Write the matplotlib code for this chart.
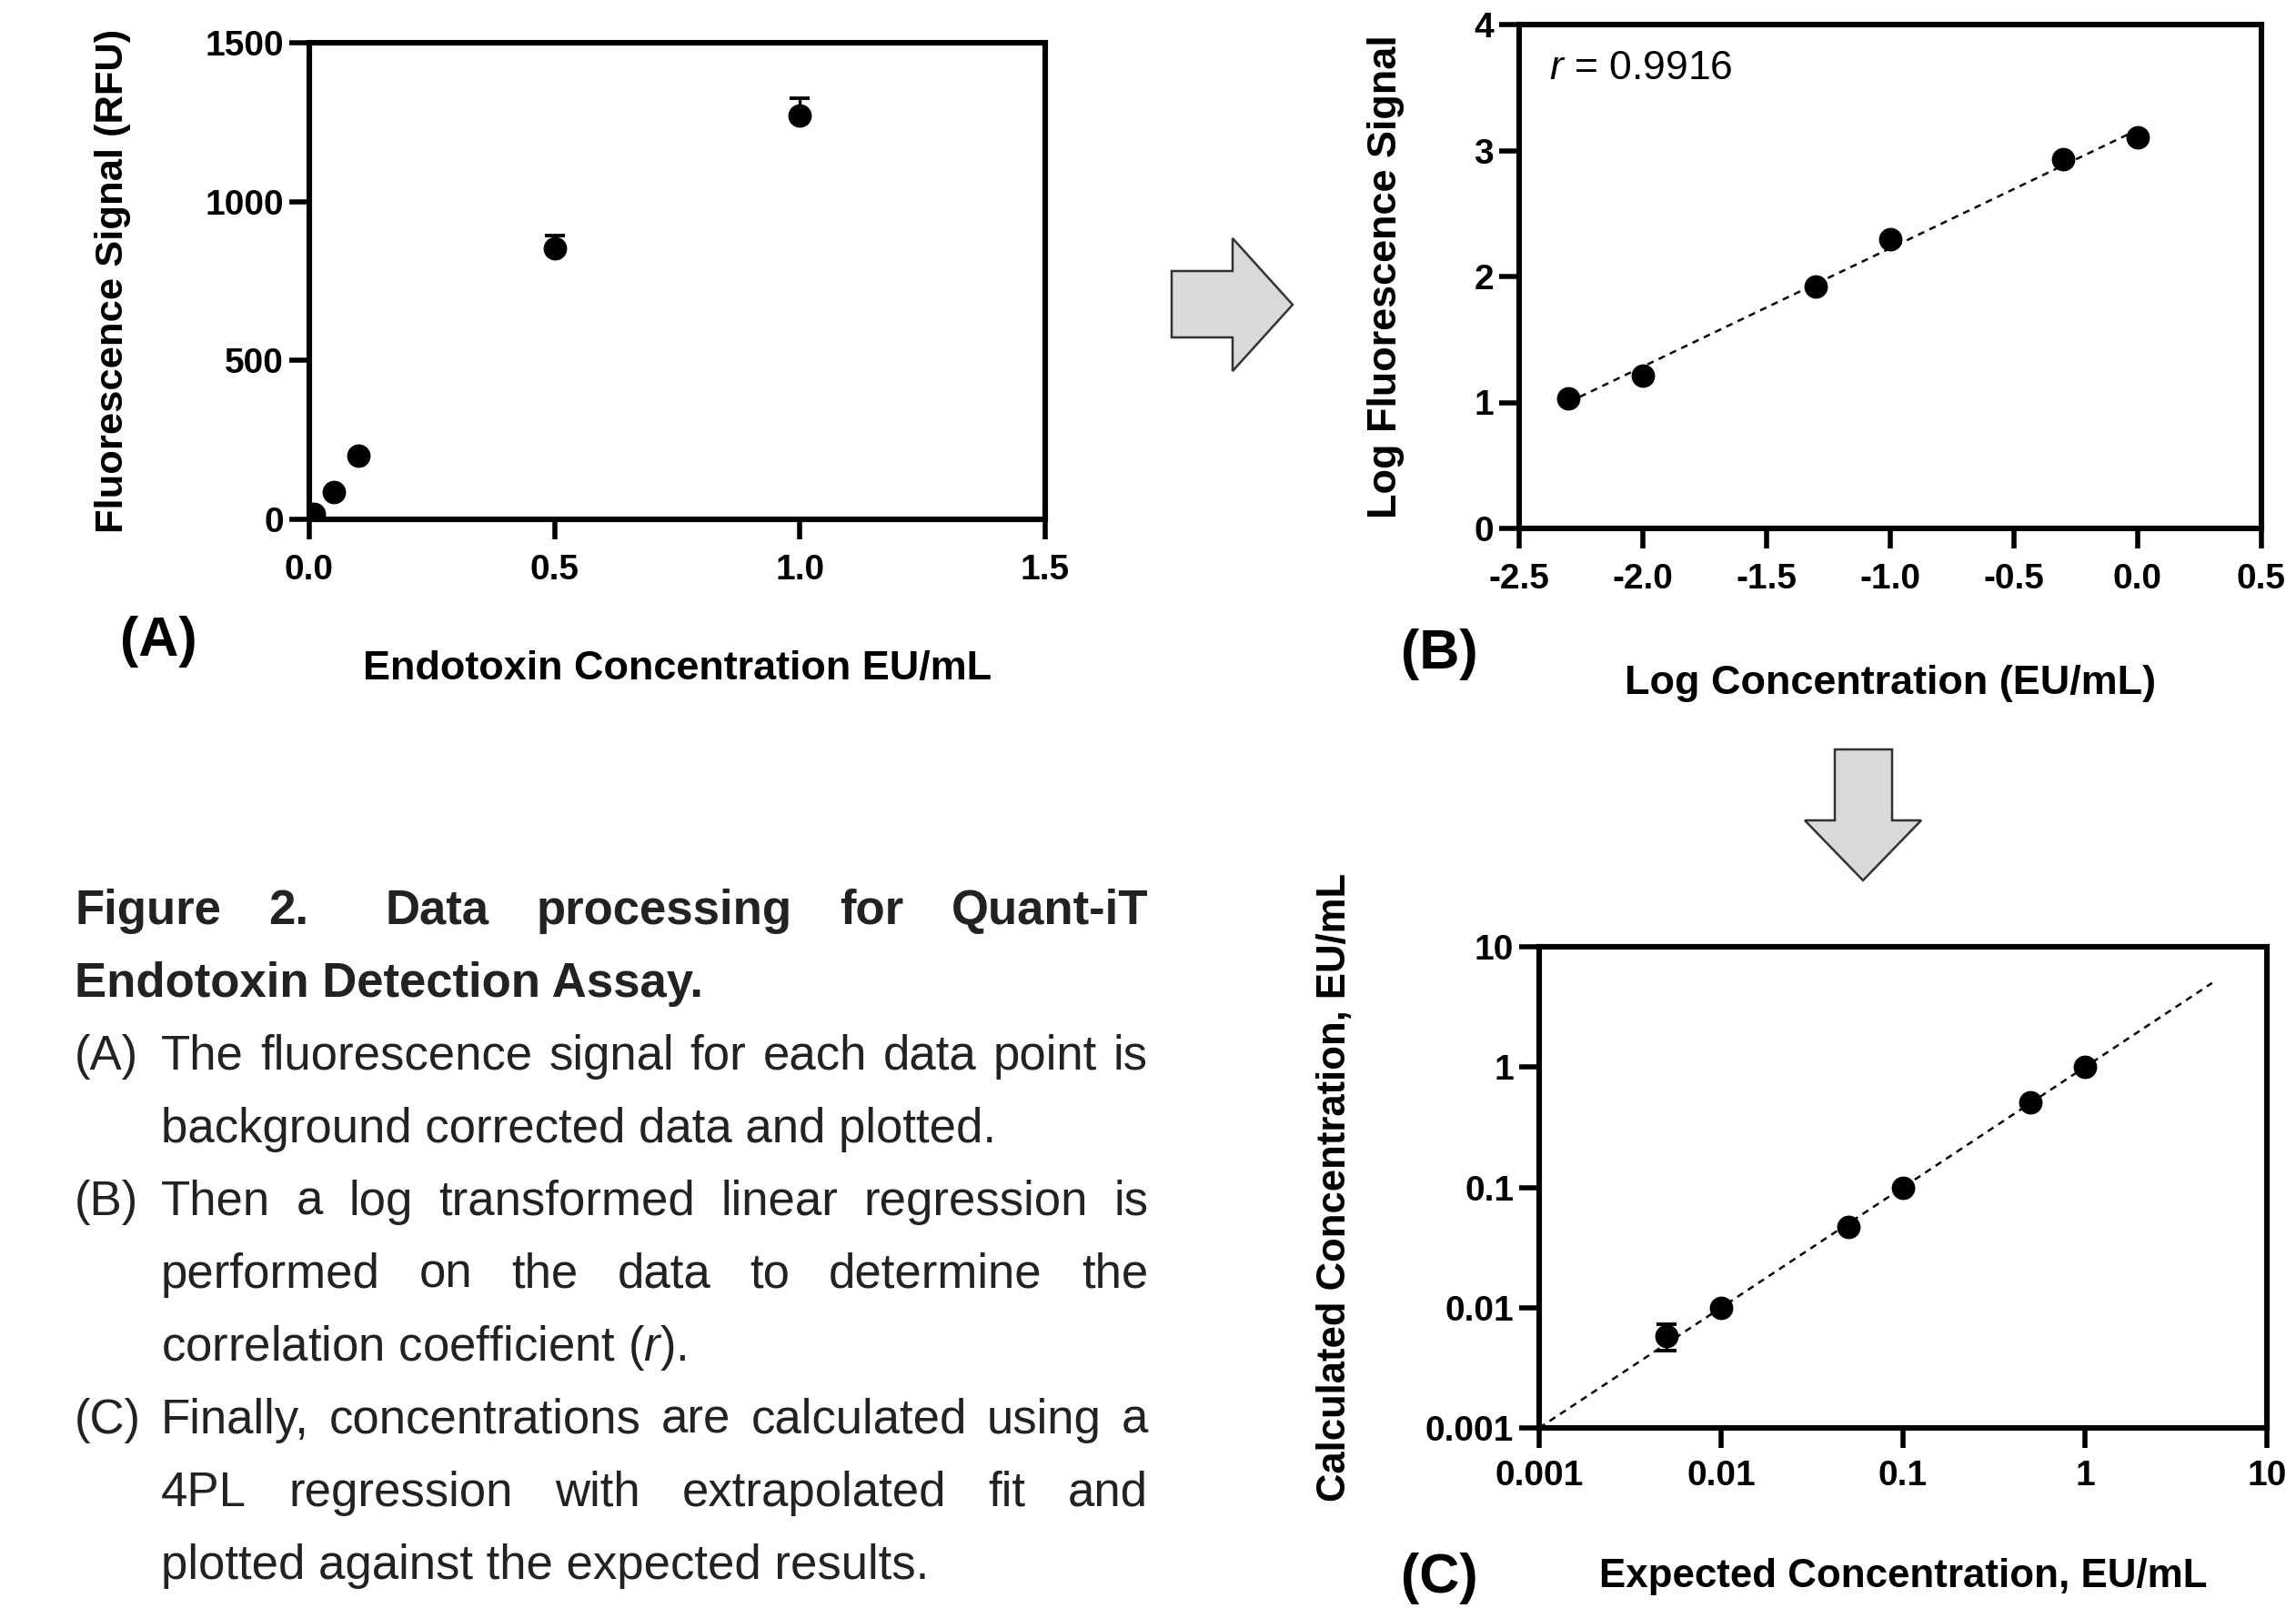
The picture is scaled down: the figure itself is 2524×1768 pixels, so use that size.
import matplotlib

matplotlib.use('Agg')
import matplotlib.pyplot as plt
from matplotlib.patches import Polygon
import numpy as np

plt.rcParams['font.family'] = 'Liberation Sans'
plt.rcParams['mathtext.fontset'] = 'custom'
plt.rcParams['mathtext.rm'] = 'Liberation Sans'
plt.rcParams['mathtext.it'] = 'Liberation Sans:italic'
plt.rcParams['mathtext.bf'] = 'Liberation Sans:bold'

W, H, DPI = 2524, 1768, 200

# (A) raw signal
conc = [0.005, 0.01, 0.05, 0.1, 0.5, 1.0]
rfu = [11, 16, 85, 200, 853, 1271]
rfu_err = [1, 1, 3, 6, 41, 54]

# (B) log-log
log_conc = [-2.301, -2.0, -1.301, -1.0, -0.301, 0.0]
log_rfu = [1.035, 1.216, 1.922, 2.296, 2.928, 3.102]
r_value = 0.9916

# (C) back-calculated
expected = [0.005, 0.01, 0.05, 0.1, 0.5, 1.0]
calculated = [0.0058, 0.0100, 0.047, 0.100, 0.51, 1.0]
calc_err_lo = [0.00143, 0, 0, 0, 0, 0]
calc_err_hi = [0.00154, 0, 0, 0, 0, 0]
ident = [0.001, 5]

a_xticks = [0, 0.5, 1.0, 1.5]
a_xlabels = ['0.0', '0.5', '1.0', '1.5']
a_yticks = [0, 500, 1000, 1500]
b_xticks = [-2.5, -2.0, -1.5, -1.0, -0.5, 0.0, 0.5]
b_xlabels = ['-2.5', '-2.0', '-1.5', '-1.0', '-0.5', '0.0', '0.5']
b_yticks = [0, 1, 2, 3, 4]
c_ticks = [0.001, 0.01, 0.1, 1, 10]
c_labels = ['0.001', '0.01', '0.1', '1', '10']

fig = plt.figure(figsize=(W / DPI, H / DPI), dpi=DPI)


def px_axes(left, top, right, bottom):
    return fig.add_axes([left / W, 1 - bottom / H, (right - left) / W, (bottom - top) / H])


def style(ax, xpad=6):
    for s in ax.spines.values():
        s.set_linewidth(2.2)
    ax.tick_params(direction='out', length=8, width=2.0, labelsize=14, top=False, right=False)
    ax.tick_params(axis='x', pad=xpad)
    ax.tick_params(axis='y', pad=2)
    for lab in ax.get_xticklabels() + ax.get_yticklabels():
        lab.set_fontweight('bold')


MS = 8.3

# panel A
axA = px_axes(340, 47, 1149, 571)
axA.errorbar(conc, rfu, yerr=[np.zeros(len(rfu_err)), rfu_err], fmt='o', color='black',
             ms=MS, elinewidth=1.2, capsize=4, capthick=1.4)
axA.set_xlim(0, 1.5)
axA.set_ylim(0, 1500)
axA.set_xticks(a_xticks, a_xlabels)
axA.set_yticks(a_yticks)
style(axA, xpad=5.8)
axA.set_xlabel('Endotoxin Concentration EU/mL', va='center', fontsize=16.2, fontweight='bold')
axA.xaxis.set_label_coords(0.5, (571 - 736) / 524)
axA.set_ylabel('Fluorescence Signal (RFU)', va='center', fontsize=15.65, fontweight='bold')
axA.yaxis.set_label_coords((124 - 340) / 809, 0.5)

# panel B
axB = px_axes(1670, 27, 2486, 581)
k, b = np.polyfit(log_conc, log_rfu, 1)
fit_x = np.array([min(log_conc), max(log_conc)])
axB.plot(fit_x, k * fit_x + b, color='black', lw=0.9, ls=(0, (3, 2.5)))
axB.plot(log_conc, log_rfu, 'o', color='black', ms=MS)
axB.set_xlim(-2.5, 0.5)
axB.set_ylim(0, 4)
axB.set_xticks(b_xticks, b_xlabels)
axB.set_yticks(b_yticks)
style(axB, xpad=5.7)
axB.text(0.04, 0.892, r'$\mathit{r}$ = %.4f' % r_value, transform=axB.transAxes,
         fontsize=16, va='baseline')
axB.set_xlabel('Log Concentration (EU/mL)', va='center', fontsize=16.2, fontweight='bold')
axB.xaxis.set_label_coords(0.5, (581 - 752) / 554)
axB.set_ylabel('Log Fluorescence Signal', va='center', fontsize=16.2, fontweight='bold')
axB.yaxis.set_label_coords((1524 - 1670) / 816, 0.5)

# panel C
axC = px_axes(1692, 1041, 2492, 1570)
axC.set_xscale('log')
axC.set_yscale('log')
axC.plot(ident, ident, color='black', lw=0.9, ls=(0, (3, 2.5)))
axC.errorbar(expected, calculated, yerr=[calc_err_lo, calc_err_hi], fmt='o', color='black',
             ms=MS, elinewidth=1.2, capsize=4, capthick=1.4)
axC.set_xlim(0.001, 10)
axC.set_ylim(0.001, 10)
axC.set_xticks(c_ticks, c_labels)
axC.set_yticks(c_ticks, c_labels)
axC.minorticks_off()
style(axC, xpad=4.5)
axC.set_xlabel('Expected Concentration, EU/mL', va='center', fontsize=15.8, fontweight='bold')
axC.xaxis.set_label_coords(0.5, (1570 - 1734) / 529)
axC.set_ylabel('Calculated Concentration, EU/mL', va='center', fontsize=15.7, fontweight='bold')
axC.yaxis.set_label_coords((1468 - 1692) / 800, 0.5)

# panel letters
for s, x, y in [('(A)', 174, 705), ('(B)', 1582, 720), ('(C)', 1582, 1735)]:
    fig.text(x / W, 1 - y / H, s, fontsize=22, fontweight='bold', ha='center', va='center')

# arrows
right_arrow = [(1288, 298), (1355, 298), (1355, 262), (1421, 335), (1355, 408), (1355, 371), (1288, 371)]
down_arrow = [(2017, 824), (2080, 824), (2080, 902), (2112, 902), (2048, 968), (1984, 902), (2017, 902)]
for pts in (right_arrow, down_arrow):
    fig.patches.append(Polygon([(x / W, 1 - y / H) for x, y in pts], closed=True,
                               transform=fig.transFigure, facecolor='#d9d9d9',
                               edgecolor='#333333', lw=0.9))

# caption
rend = fig.canvas.get_renderer()
cap_kw = dict(fontsize=19, color='#222222')
X0, X1, XI = 82, 1262, 177


def line(words, x0, x1, base, gaps=None, **kw):
    objs = [fig.text(0, 1 - base / H, w, va='baseline', **kw) for w in words]
    widths = [o.get_window_extent(rend).width for o in objs]
    gaps = gaps or [1] * (len(words) - 1)
    g = (x1 - x0 - sum(widths)) / sum(gaps)
    x = x0
    for o, wd, gp in zip(objs, widths, gaps + [0]):
        o.set_x(x / W)
        x += wd + gp * g


def plain(s, x0, base, **kw):
    fig.text(x0 / W, 1 - base / H, s, va='baseline', **kw)


bases = [1016 + 80 * i for i in range(10)]
line('Figure 2. Data processing for Quant-iT'.split(), X0, X1, bases[0],
     gaps=[1, 1.6, 1, 1, 1], fontweight='bold', **cap_kw)
plain('Endotoxin Detection Assay.', X0, bases[1], fontweight='bold', **cap_kw)
plain('(A)', X0, bases[2], **cap_kw)
line('The fluorescence signal for each data point is'.split(), XI, X1, bases[2], **cap_kw)
plain('background corrected data and plotted.', XI, bases[3], **cap_kw)
plain('(B)', X0, bases[4], **cap_kw)
line('Then a log transformed linear regression is'.split(), XI, X1, bases[4], **cap_kw)
line('performed on the data to determine the'.split(), XI, X1, bases[5], **cap_kw)
plain(r'correlation coefficient ($\mathit{r}$).', XI, bases[6], **cap_kw)
plain('(C)', X0, bases[7], **cap_kw)
line('Finally, concentrations are calculated using a'.split(), XI, X1, bases[7], **cap_kw)
line('4PL regression with extrapolated fit and'.split(), XI, X1, bases[8], **cap_kw)
plain('plotted against the expected results.', XI, bases[9], **cap_kw)

fig.savefig('out.png', dpi=DPI)
